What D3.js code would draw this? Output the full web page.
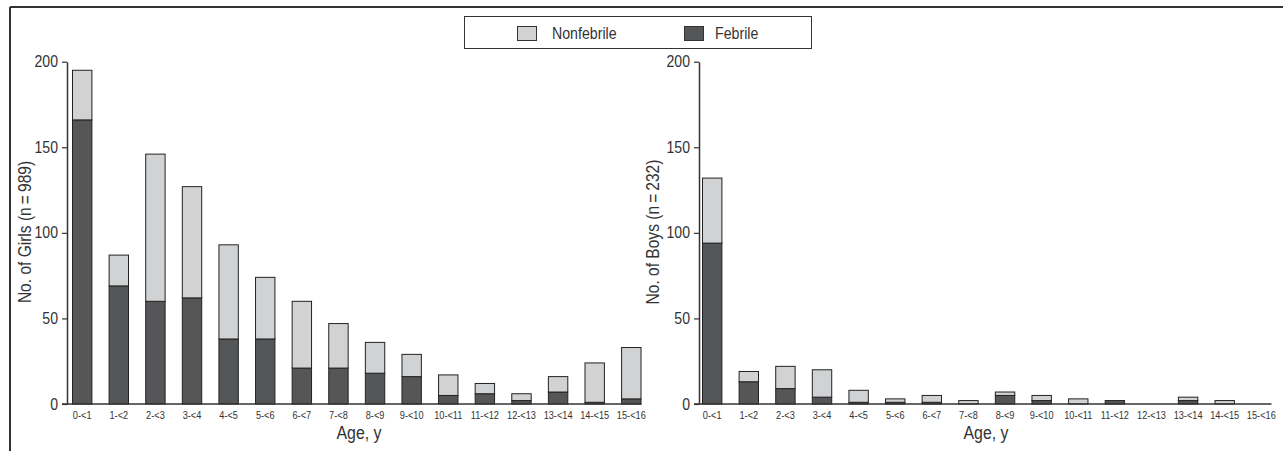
<!DOCTYPE html>
<html>
<head>
<meta charset="utf-8">
<script src="https://cdn.jsdelivr.net/npm/d3@7"></script>
<style>
  html, body { margin: 0; padding: 0; background: #fff; }
  svg text { font-family: "Liberation Sans", Arial, sans-serif; fill: #333; }
</style>
</head>
<body>
<svg id="chart" width="1283" height="451"></svg>
<script>
const categories = ["0-<1","1-<2","2-<3","3-<4","4-<5","5-<6","6-<7","7-<8","8-<9","9-<10","10-<11","11-<12","12-<13","13-<14","14-<15","15-<16"];
const girlsFebrile    = [166, 69, 60, 62, 38, 38, 21, 21, 18, 16, 5, 6, 2, 7, 1, 3];
const girlsNonfebrile = [29, 18, 86, 65, 55, 36, 39, 26, 18, 13, 12, 6, 4, 9, 23, 30];
const boysFebrile     = [94, 13, 9, 4, 1, 1, 1, 0, 5, 2, 0, 2, 0, 2, 0, 0];
const boysNonfebrile  = [38, 6, 13, 16, 7, 2, 4, 2, 2, 3, 3, 0, 0, 2, 2, 0];
const yTicks = [0, 50, 100, 150, 200];
const seriesNames = ["Nonfebrile", "Febrile"];
const colors = { Nonfebrile: "#d1d2d4", Febrile: "#555658" };

const svg = d3.select("#chart");
const ink = "#333";
const NARROW = 0.84;

// frame lines
svg.append("line").attr("x1", 10).attr("x2", 1283).attr("y1", 7).attr("y2", 7)
  .attr("stroke", ink).attr("stroke-width", 2);
svg.append("line").attr("x1", 10).attr("x2", 10).attr("y1", 7).attr("y2", 451)
  .attr("stroke", ink).attr("stroke-width", 2);

const y = d3.scaleLinear().domain([0, 200]).range([404, 61.7]);

function panel(opts) {
  const g = svg.append("g");
  const x = d3.scaleBand().domain(categories).range([opts.x0, opts.x1])
    .paddingInner(0.47).paddingOuter(0);
  const data = categories.map((c, i) => ({ cat: c, Febrile: opts.feb[i], Nonfebrile: opts.non[i] }));
  const stack = d3.stack().keys(["Febrile", "Nonfebrile"])(data);

  g.selectAll("g.layer").data(stack).join("g").attr("class", "layer")
    .attr("fill", d => colors[d.key])
    .selectAll("rect").data(d => d).join("rect")
    .attr("x", d => x(d.data.cat))
    .attr("width", x.bandwidth())
    .attr("y", d => y(d[1]))
    .attr("height", d => Math.max(0, y(d[0]) - y(d[1])))
    .attr("stroke", "#222").attr("stroke-width", 1)
    .attr("display", (d, i, n) => (d[1] - d[0]) > 0 || d[1] === 0 ? null : "none");

  // y axis
  const ya = g.append("g").attr("transform", `translate(${opts.ax},0)`)
    .call(d3.axisLeft(y).tickValues(yTicks).tickSize(5).tickSizeOuter(0).tickPadding(4));
  ya.select(".domain").attr("stroke", ink).attr("stroke-width", 1.5);
  ya.selectAll(".tick line").attr("stroke", ink).attr("stroke-width", 1.2);
  ya.selectAll(".tick text").attr("font-size", 16).attr("fill", ink)
    .attr("transform", "scale(0.88,1)")
    .attr("x", -9 / 0.88);

  // x axis
  const xa = g.append("g").attr("transform", `translate(0,${y(0)})`)
    .call(d3.axisBottom(x).tickSize(0).tickPadding(7));
  xa.select(".domain").remove();
  xa.selectAll(".tick text").attr("font-size", 11.5).attr("fill", ink)
    .attr("transform", "scale(0.8,1)");
  g.append("line").attr("x1", opts.ax - 5).attr("x2", opts.x1 + 0.5)
    .attr("y1", y(0)).attr("y2", y(0)).attr("stroke", ink).attr("stroke-width", 1.5);

  g.append("text").attr("transform", `translate(${opts.ageX},439) scale(0.86,1)`)
    .attr("text-anchor", "middle").attr("font-size", 18.5).text("Age, y");
  g.append("text").attr("transform", `translate(${opts.titleX},232) rotate(-90) scale(${NARROW},1)`)
    .attr("text-anchor", "middle").attr("dy", "0.35em").attr("font-size", 18.5).text(opts.title);
}

panel({ x0: 72.5, x1: 641, ax: 67, feb: girlsFebrile, non: girlsNonfebrile,
        ageX: 359, titleX: 25, title: "No. of Girls (n\u2009=\u2009989)" });
panel({ x0: 702.5, x1: 1271, ax: 699, feb: boysFebrile, non: boysNonfebrile,
        ageX: 986, titleX: 653, title: "No. of Boys (n\u2009=\u2009232)" });

// legend
const lg = svg.append("g");
lg.append("rect").attr("x", 464.5).attr("y", 16.5).attr("width", 347).attr("height", 32)
  .attr("fill", "#fff").attr("stroke", ink).attr("stroke-width", 1);
const legendPos = [{ sx: 517, tx: 552 }, { sx: 684, tx: 715 }];
seriesNames.forEach((name, i) => {
  lg.append("rect").attr("x", legendPos[i].sx + 0.5).attr("y", 26.5).attr("width", 19).attr("height", 14)
    .attr("fill", colors[name]).attr("stroke", ink).attr("stroke-width", 1);
  lg.append("text").attr("transform", `translate(${legendPos[i].tx},33.5) scale(0.86,1)`)
    .attr("dy", "0.35em").attr("font-size", 16.5).text(name);
});
</script>
</body>
</html>
